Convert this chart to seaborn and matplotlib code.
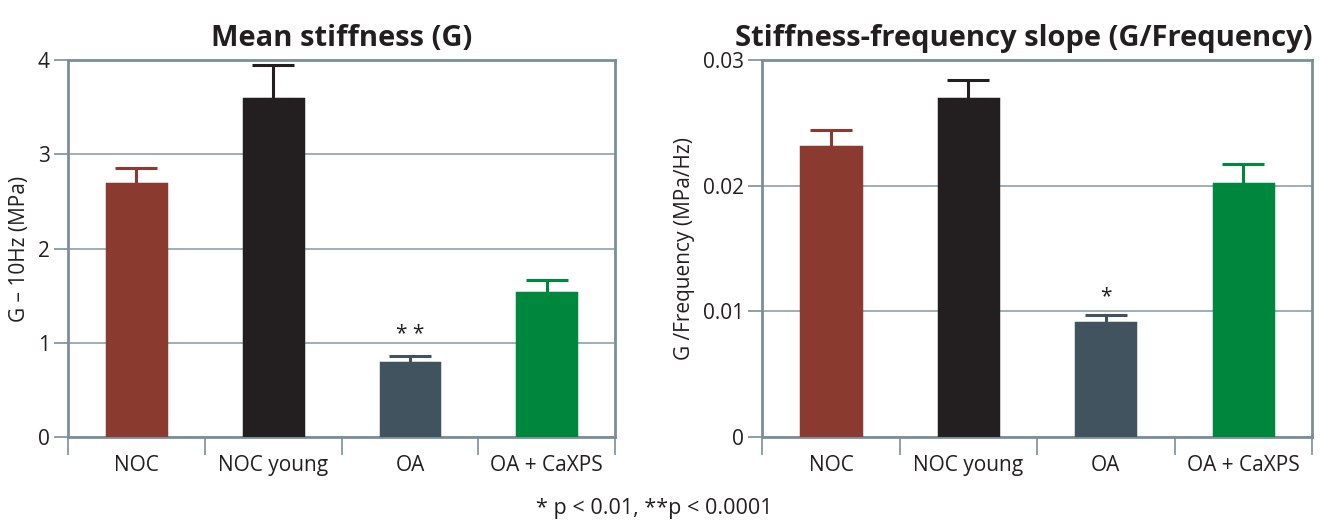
import matplotlib
matplotlib.use("Agg")
import matplotlib.pyplot as plt
import seaborn as sns
import pandas as pd
from matplotlib.ticker import FixedLocator

categories = ["NOC", "NOC young", "OA", "OA + CaXPS"]
stiffness = [2.68, 3.59, 0.79, 1.53]
stiffness_err = [0.17, 0.36, 0.07, 0.14]
slope = [0.0231, 0.0269, 0.0091, 0.0201]
slope_err = [0.0013, 0.0015, 0.0006, 0.0016]
colors = ["#8b3a30", "#231f20", "#41535f", "#00873e"]
sig_left = ["", "", "* *", ""]
sig_right = ["", "", "*", ""]

sns.set_theme(style="white")
plt.rcParams['font.family'] = ['Open Sans', 'DejaVu Sans']

frame = "#7b8e9a"
grid = "#8fa0ab"
txt = "#231f20"

fig = plt.figure(figsize=(13.2, 5.25), dpi=100)
ax1 = fig.add_axes([0.0515, 0.1676, 0.4145, 0.7181])
ax2 = fig.add_axes([0.5775, 0.1676, 0.4165, 0.7181])

def draw(ax, vals, errs, sig, ymax, yticks, yticklabels, ylabel, title, sig_off, tloc):
    df = pd.DataFrame({"cat": categories, "val": vals})
    sns.barplot(data=df, x="cat", y="val", hue="cat", palette=colors,
                width=0.43, legend=False, ax=ax, saturation=1, errorbar=None, zorder=3)
    for p in ax.patches:
        p.set_edgecolor(p.get_facecolor())
        p.set_linewidth(2.5)
    for i, (v, e, c) in enumerate(zip(vals, errs, colors)):
        ax.errorbar(i, v, yerr=[[0], [e]], fmt="none", ecolor=c, elinewidth=2.2,
                    capsize=15, capthick=2.2, zorder=2.5)
        if sig[i]:
            ax.text(i, v + e + sig_off, sig[i], ha="center", va="bottom",
                    fontsize=15, color=txt)
    ax.set_xlim(-0.5, 3.5)
    ax.set_ylim(0, ymax)
    ax.set_yticks(yticks)
    ax.set_yticklabels(yticklabels)
    ax.yaxis.grid(True, color=grid, linewidth=1.2, zorder=0)
    ax.set_axisbelow(True)
    ax.xaxis.set_minor_locator(FixedLocator([-0.5, 0.5, 1.5, 2.5, 3.5]))
    ax.tick_params(axis="x", which="major", length=0, pad=13, labelsize=15, labelcolor=txt)
    ax.tick_params(axis="x", which="minor", length=13, width=1.2, color=frame, bottom=True)
    ax.tick_params(axis="y", length=10, width=1.2, color=frame, left=True,
                   labelsize=15, labelcolor=txt, pad=3)
    for s in ax.spines.values():
        s.set_visible(True)
        s.set_color(frame)
        s.set_linewidth(2)
    ax.set_xlabel("")
    ax.set_ylabel(ylabel, fontsize=15, color=txt, labelpad=6)
    ax.set_title(title, fontsize=21, fontweight="bold", color=txt, pad=10, loc=tloc)

draw(ax1, stiffness, stiffness_err, sig_left, 4, [0, 1, 2, 3, 4],
     ["0", "1", "2", "3", "4"], "G \u2013 10Hz (MPa)", "Mean stiffness (G)", 0.12, "center")
draw(ax2, slope, slope_err, sig_right, 0.03, [0, 0.01, 0.02, 0.03],
     ["0", "0.01", "0.02", "0.03"], "G /Frequency (MPa/Hz)",
     "Stiffness-frequency slope (G/Frequency)", 0.0006, "right")

fig.text(0.496, 0.012, "* p < 0.01, **p < 0.0001", ha="center",
         va="bottom", fontsize=15.5, color=txt)

fig.savefig("out.png", dpi=100)
